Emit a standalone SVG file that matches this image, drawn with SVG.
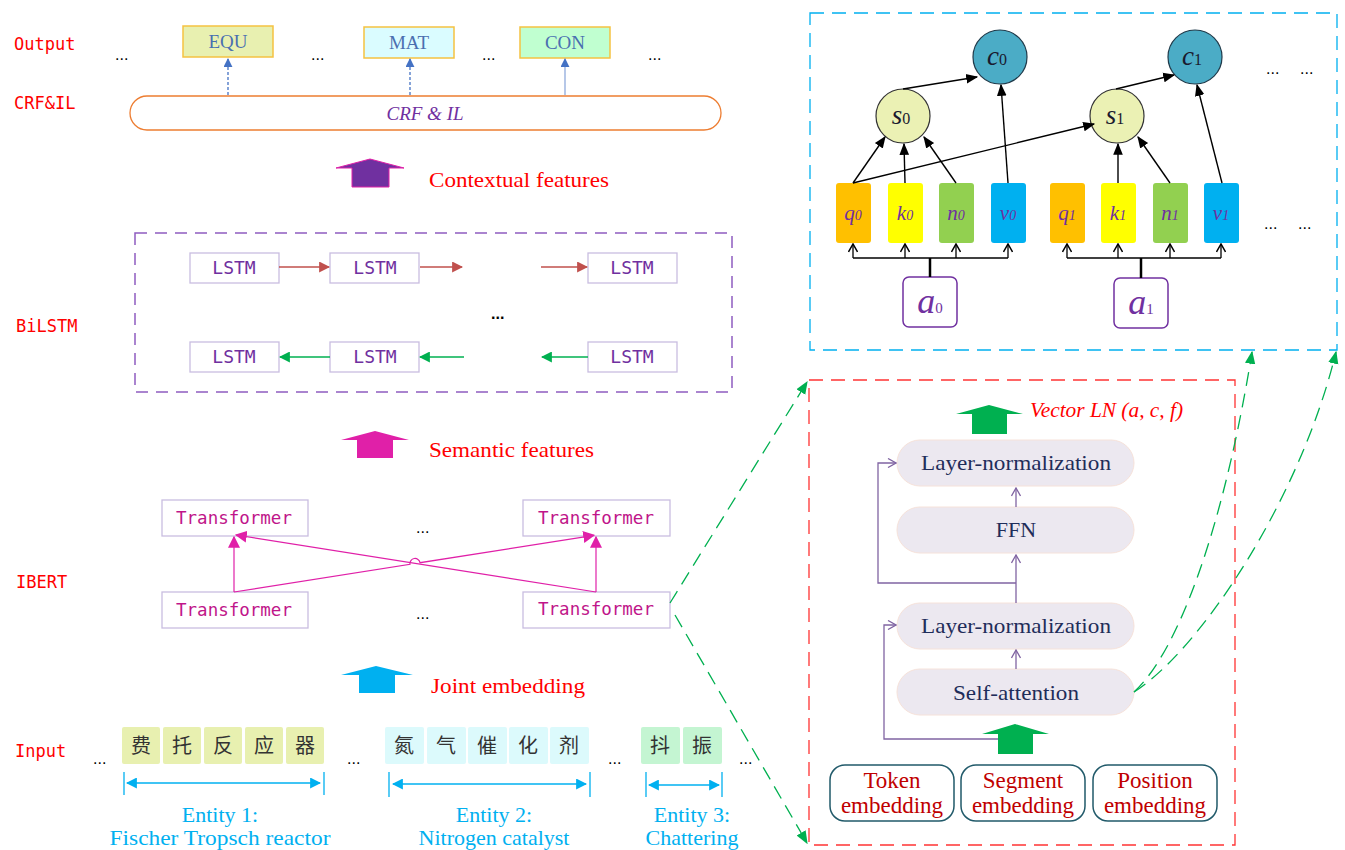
<svg xmlns="http://www.w3.org/2000/svg" width="1345" height="850" viewBox="0 0 1345 850">
<defs>
<style>
.lbl{font-family:"DejaVu Sans Mono","Liberation Mono",monospace;font-size:17px;fill:#ff0000}
.ser{font-family:"Liberation Serif","DejaVu Serif",serif}
.dots{font-family:"Liberation Sans",sans-serif;font-size:16px;fill:#000}
.tag{font-family:"Liberation Serif",serif;font-size:19px;fill:#4a6fb0;text-anchor:middle}
.feat{font-family:"Liberation Serif",serif;font-size:21px;fill:#ff0000}
.lstm{fill:#fff;stroke:#c9bde0;stroke-width:1.3}
.lstmt{font-family:"DejaVu Sans Mono",monospace;font-size:18px;fill:#7030a0;text-anchor:middle}
.tf{fill:#fff;stroke:#c9bde0;stroke-width:1.3}
.tft{font-family:"DejaVu Sans Mono",monospace;font-size:17.5px;fill:#c0158a;text-anchor:middle}
.cjk{font-family:"Noto Sans CJK SC",sans-serif;font-size:20px;fill:#333;text-anchor:middle}
.ent{font-family:"Liberation Serif",serif;font-size:22px;fill:#00b0f0;text-anchor:middle}
.pill{fill:#ece8f0;stroke:#f6e2da;stroke-width:1}
.pillt{font-family:"Liberation Serif",serif;font-size:22px;fill:#1f2d5a;text-anchor:middle}
.emb{fill:#fff;stroke:#215a6a;stroke-width:1.5}
.embt{font-family:"Liberation Serif",serif;font-size:23px;fill:#c00000;text-anchor:middle}
.vec{font-family:"Liberation Serif",serif;font-size:21px;font-style:italic;fill:#7030a0;text-anchor:middle}
.circt{font-family:"Liberation Serif",serif;font-size:27px;font-style:italic;fill:#1a1a2e;text-anchor:middle}
.blk{stroke:#000;stroke-width:1.4;fill:none}
</style>
<marker id="mBlue" viewBox="0 0 10 10" refX="9" refY="5" markerWidth="9" markerHeight="9" markerUnits="userSpaceOnUse" orient="auto"><path d="M0,0L10,5L0,10z" fill="#4472c4"/></marker>
<marker id="mRed" viewBox="0 0 10 10" refX="9" refY="5" markerWidth="11" markerHeight="11" markerUnits="userSpaceOnUse" orient="auto"><path d="M0,0L10,5L0,10z" fill="#c0504d"/></marker>
<marker id="mGreen" viewBox="0 0 10 10" refX="9" refY="5" markerWidth="11" markerHeight="11" markerUnits="userSpaceOnUse" orient="auto"><path d="M0,0L10,5L0,10z" fill="#00b050"/></marker>
<marker id="mMag" viewBox="0 0 10 10" refX="9" refY="5" markerWidth="12" markerHeight="12" markerUnits="userSpaceOnUse" orient="auto"><path d="M0,0L10,5L0,10z" fill="#e020a8"/></marker>
<marker id="mCyan" viewBox="0 0 10 10" refX="9" refY="5" markerWidth="11" markerHeight="11" markerUnits="userSpaceOnUse" orient="auto-start-reverse"><path d="M0,0L10,5L0,10z" fill="#00b0f0"/></marker>
<marker id="mBlack" viewBox="0 0 10 10" refX="9" refY="5" markerWidth="12" markerHeight="12" markerUnits="userSpaceOnUse" orient="auto"><path d="M0,1L10,5L0,9z" fill="#000"/></marker>
<marker id="mOpen" viewBox="0 0 10 10" refX="9" refY="5" markerWidth="10" markerHeight="10" markerUnits="userSpaceOnUse" orient="auto"><path d="M1,0.5L9,5L1,9.5" fill="none" stroke="#000" stroke-width="1.5"/></marker>
<marker id="mOpenP" viewBox="0 0 10 10" refX="9" refY="5" markerWidth="10" markerHeight="10" markerUnits="userSpaceOnUse" orient="auto"><path d="M1,0.5L9,5L1,9.5" fill="none" stroke="#8064a2" stroke-width="1.3"/></marker>
<marker id="mDG" viewBox="0 0 10 10" refX="9" refY="5" markerWidth="13" markerHeight="13" markerUnits="userSpaceOnUse" orient="auto"><path d="M0,1L10,5L0,9z" fill="#00b050"/></marker>
</defs>
<rect width="1345" height="850" fill="#fff"/>

<!-- Row labels -->
<g id="row-labels">
<text class="lbl" x="14" y="50">Output</text>
<text class="lbl" x="14" y="109">CRF&amp;IL</text>
<text class="lbl" x="16" y="332">BiLSTM</text>
<text class="lbl" x="16" y="588">IBERT</text>
<text class="lbl" x="15" y="757">Input</text>
</g>

<!-- Output tags -->
<g id="out-equ"><rect x="183" y="26" width="90" height="31" fill="#e8f0b0" stroke="#f5c242" stroke-width="1.5"/><text class="tag" x="228" y="48">EQU</text></g>
<g id="out-mat"><rect x="364" y="27" width="90" height="31" fill="#dafcff" stroke="#f5c242" stroke-width="1.5"/><text class="tag" x="409" y="49">MAT</text></g>
<g id="out-con"><rect x="520" y="27" width="90" height="31" fill="#c0ffd0" stroke="#f5c242" stroke-width="1.5"/><text class="tag" x="565" y="49">CON</text></g>
<g id="out-dots" class="dots"><text x="115" y="60">...</text><text x="311" y="60">...</text><text x="482" y="60">...</text><text x="648" y="60">...</text></g>

<g id="crf"><rect x="130" y="96" width="591" height="34" rx="17" fill="#fff" stroke="#ed7d31" stroke-width="1.3"/><text class="ser" x="425" y="120" font-size="19" font-style="italic" fill="#7030a0" text-anchor="middle">CRF &amp; IL</text></g>

<!-- Block arrows -->
<g id="ctx-arrow"><polygon points="336,168 370,159 404,168 389,168 389,187 352,187 352,168" fill="#7030a0" stroke="#e020a8" stroke-width="1"/><text class="feat" x="429" y="187" textLength="180" lengthAdjust="spacingAndGlyphs">Contextual features</text></g>
<g id="sem-arrow"><polygon points="341,440 375,431 409,440 393,440 393,458 357,458 357,440" fill="#e020a8"/><text class="feat" x="429" y="457" textLength="165" lengthAdjust="spacingAndGlyphs">Semantic features</text></g>
<g id="joint-arrow"><polygon points="341,675 376,666 413,675 395,675 395,693 359,693 359,675" fill="#00b0f0"/><text class="feat" x="431" y="693" textLength="154" lengthAdjust="spacingAndGlyphs">Joint embedding</text></g>

<!-- BiLSTM -->
<g id="bilstm-box"><rect x="135" y="233" width="597" height="159" fill="none" stroke="#8e5cc0" stroke-width="1.5" stroke-dasharray="12,8"/></g>
<g id="lstm-f1"><rect class="lstm" x="190" y="253" width="89" height="30"/><text class="lstmt" x="234" y="274">LSTM</text></g>
<g id="lstm-f2"><rect class="lstm" x="330" y="253" width="89" height="30"/><text class="lstmt" x="375" y="274">LSTM</text></g>
<g id="lstm-f3"><rect class="lstm" x="588" y="253" width="89" height="30"/><text class="lstmt" x="632" y="274">LSTM</text></g>
<g id="lstm-b1"><rect class="lstm" x="190" y="342" width="89" height="30"/><text class="lstmt" x="234" y="363">LSTM</text></g>
<g id="lstm-b2"><rect class="lstm" x="330" y="342" width="89" height="30"/><text class="lstmt" x="375" y="363">LSTM</text></g>
<g id="lstm-b3"><rect class="lstm" x="588" y="342" width="89" height="30"/><text class="lstmt" x="632" y="363">LSTM</text></g>
<text class="dots" x="491" y="319" font-size="20" font-weight="bold">...</text>

<!-- Transformers -->
<g id="tf-t1"><rect class="tf" x="162" y="500" width="146" height="36"/><text class="tft" x="234" y="524">Transformer</text></g>
<g id="tf-t2"><rect class="tf" x="523" y="500" width="147" height="36"/><text class="tft" x="596" y="524">Transformer</text></g>
<g id="tf-b1"><rect class="tf" x="162" y="592" width="146" height="36"/><text class="tft" x="234" y="616">Transformer</text></g>
<g id="tf-b2"><rect class="tf" x="523" y="592" width="147" height="36"/><text class="tft" x="596" y="615" font-size="15">Transformer</text></g>
<g class="dots"><text x="416" y="533">...</text><text x="416" y="619">...</text></g>

<!-- Input tokens -->
<g id="ent1-chars">
<rect x="122" y="727" width="38" height="37" rx="2" fill="#e8f0b0"/><text class="cjk" x="141" y="753">费</text>
<rect x="163" y="727" width="38" height="37" rx="2" fill="#e8f0b0"/><text class="cjk" x="182" y="753">托</text>
<rect x="204" y="727" width="38" height="37" rx="2" fill="#e8f0b0"/><text class="cjk" x="223" y="753">反</text>
<rect x="245" y="727" width="38" height="37" rx="2" fill="#e8f0b0"/><text class="cjk" x="264" y="753">应</text>
<rect x="286" y="727" width="38" height="37" rx="2" fill="#e8f0b0"/><text class="cjk" x="305" y="753">器</text>
</g>
<g id="ent2-chars">
<rect x="385" y="727" width="39" height="37" rx="2" fill="#dcfafc"/><text class="cjk" x="404" y="753">氮</text>
<rect x="427" y="727" width="39" height="37" rx="2" fill="#dcfafc"/><text class="cjk" x="446" y="753">气</text>
<rect x="468" y="727" width="39" height="37" rx="2" fill="#dcfafc"/><text class="cjk" x="487" y="753">催</text>
<rect x="509" y="727" width="39" height="37" rx="2" fill="#dcfafc"/><text class="cjk" x="528" y="753">化</text>
<rect x="550" y="727" width="39" height="37" rx="2" fill="#dcfafc"/><text class="cjk" x="569" y="753">剂</text>
</g>
<g id="ent3-chars">
<rect x="641" y="727" width="39" height="37" rx="2" fill="#c4f5d2"/><text class="cjk" x="660" y="753">抖</text>
<rect x="683" y="727" width="39" height="37" rx="2" fill="#c4f5d2"/><text class="cjk" x="702" y="753">振</text>
</g>
<g class="dots"><text x="93" y="764">...</text><text x="347" y="764">...</text><text x="608" y="764">...</text><text x="739" y="764">...</text></g>

<g id="entity-spans" stroke="#00b0f0" stroke-width="1.3" fill="none">
<line x1="124" y1="772" x2="124" y2="795"/><line x1="324" y1="772" x2="324" y2="795"/>
<line x1="389" y1="772" x2="389" y2="797"/><line x1="590" y1="772" x2="590" y2="797"/>
<line x1="646" y1="772" x2="646" y2="797"/><line x1="722" y1="772" x2="722" y2="797"/>
<line x1="127" y1="783" x2="320" y2="783" marker-start="url(#mCyan)" marker-end="url(#mCyan)"/>
<line x1="393" y1="784" x2="586" y2="784" marker-start="url(#mCyan)" marker-end="url(#mCyan)"/>
<line x1="649" y1="785" x2="719" y2="785" marker-start="url(#mCyan)" marker-end="url(#mCyan)"/>
</g>
<g id="entity-labels">
<text class="ent" x="220" y="822">Entity 1:</text><text class="ent" x="220" y="845" textLength="221" lengthAdjust="spacingAndGlyphs">Fischer Tropsch reactor</text>
<text class="ent" x="494" y="822">Entity 2:</text><text class="ent" x="494" y="845">Nitrogen catalyst</text>
<text class="ent" x="692" y="822">Entity 3:</text><text class="ent" x="692" y="845">Chattering</text>
</g>

<!-- Attention detail (top right) -->
<g id="attn-box"><rect x="810" y="13" width="527" height="337" fill="none" stroke="#00b0f0" stroke-width="1.3" stroke-dasharray="14,8"/></g>
<g id="c0"><circle cx="1000" cy="57" r="27" fill="#4bacc6" stroke="#1f3a4a" stroke-width="1.2"/><text class="circt" x="997" y="65">c<tspan font-size="16" font-style="normal">0</tspan></text></g>
<g id="c1"><circle cx="1195" cy="57" r="27" fill="#4bacc6" stroke="#1f3a4a" stroke-width="1.2"/><text class="circt" x="1192" y="65">c<tspan font-size="16" font-style="normal">1</tspan></text></g>
<g id="s0"><circle cx="903" cy="116" r="27" fill="#ebf1b4" stroke="#333" stroke-width="1.2"/><text class="circt" x="901" y="124" font-size="24">s<tspan font-size="16" font-style="normal">0</tspan></text></g>
<g id="s1"><circle cx="1117" cy="116" r="27" fill="#ebf1b4" stroke="#333" stroke-width="1.2"/><text class="circt" x="1115" y="124" font-size="24">s<tspan font-size="16" font-style="normal">1</tspan></text></g>
<g class="dots"><text x="1266" y="74">...</text><text x="1300" y="74">...</text><text x="1264" y="229">...</text><text x="1298" y="229">...</text></g>

<g id="vec-q0"><rect x="836" y="183" width="35" height="60" rx="3" fill="#ffc000"/><text class="vec" x="853" y="220">q<tspan font-size="14">0</tspan></text></g>
<g id="vec-k0"><rect x="888" y="183" width="35" height="60" rx="3" fill="#ffff00"/><text class="vec" x="905" y="220">k<tspan font-size="14">0</tspan></text></g>
<g id="vec-n0"><rect x="939" y="183" width="35" height="60" rx="3" fill="#92d050"/><text class="vec" x="956" y="220">n<tspan font-size="14">0</tspan></text></g>
<g id="vec-v0"><rect x="991" y="183" width="35" height="60" rx="3" fill="#00b0f0"/><text class="vec" x="1008" y="220">v<tspan font-size="14">0</tspan></text></g>
<g id="vec-q1"><rect x="1050" y="183" width="35" height="60" rx="3" fill="#ffc000"/><text class="vec" x="1067" y="220">q<tspan font-size="14">1</tspan></text></g>
<g id="vec-k1"><rect x="1101" y="183" width="35" height="60" rx="3" fill="#ffff00"/><text class="vec" x="1118" y="220">k<tspan font-size="14">1</tspan></text></g>
<g id="vec-n1"><rect x="1153" y="183" width="35" height="60" rx="3" fill="#92d050"/><text class="vec" x="1170" y="220">n<tspan font-size="14">1</tspan></text></g>
<g id="vec-v1"><rect x="1204" y="183" width="35" height="60" rx="3" fill="#00b0f0"/><text class="vec" x="1221" y="220">v<tspan font-size="14">1</tspan></text></g>

<g id="a0"><rect x="903" y="277" width="54" height="50" rx="6" fill="#fff" stroke="#7030a0" stroke-width="1.5"/><text class="ser" x="930" y="313" font-size="36" font-style="italic" fill="#7030a0" text-anchor="middle">a<tspan font-size="15" font-style="normal">0</tspan></text></g>
<g id="a1"><rect x="1114" y="278" width="54" height="50" rx="6" fill="#fff" stroke="#7030a0" stroke-width="1.5"/><text class="ser" x="1141" y="314" font-size="36" font-style="italic" fill="#7030a0" text-anchor="middle">a<tspan font-size="15" font-style="normal">1</tspan></text></g>

<!-- Transformer block detail (red box) -->
<g id="block-box"><rect x="809" y="380" width="426" height="465" fill="none" stroke="#ff3333" stroke-width="1.3" stroke-dasharray="14,8"/></g>
<g id="vec-ln"><polygon points="956,414 989,405 1023,414 1007,414 1007,434 972,434 972,414" fill="#00b050"/><text class="ser" x="1030" y="417" font-size="20" font-style="italic" fill="#ff0000" textLength="153" lengthAdjust="spacingAndGlyphs">Vector LN (a, c, f)</text></g>
<g id="ln-top"><rect class="pill" x="897" y="440" width="237" height="46" rx="23"/><text class="pillt" x="1016" y="470" textLength="190" lengthAdjust="spacingAndGlyphs">Layer-normalization</text></g>
<g id="ffn"><rect class="pill" x="897" y="507" width="237" height="46" rx="23"/><text class="pillt" x="1016" y="537">FFN</text></g>
<g id="ln-bot"><rect class="pill" x="897" y="603" width="237" height="46" rx="23"/><text class="pillt" x="1016" y="633" textLength="190" lengthAdjust="spacingAndGlyphs">Layer-normalization</text></g>
<g id="self-attn"><rect class="pill" x="897" y="669" width="237" height="46" rx="23"/><text class="pillt" x="1016" y="700" textLength="126" lengthAdjust="spacingAndGlyphs">Self-attention</text></g>
<g id="emb-arrow"><polygon points="982,734 1015,724 1049,734 1033,734 1033,754 998,754 998,734" fill="#00b050"/></g>
<g id="emb-token"><rect class="emb" x="830" y="765" width="124" height="56" rx="15"/><text class="embt" x="892" y="788">Token</text><text class="embt" x="892" y="813">embedding</text></g>
<g id="emb-segment"><rect class="emb" x="961" y="765" width="124" height="56" rx="15"/><text class="embt" x="1023" y="788">Segment</text><text class="embt" x="1023" y="813">embedding</text></g>
<g id="emb-position"><rect class="emb" x="1093" y="765" width="124" height="56" rx="15"/><text class="embt" x="1155" y="788">Position</text><text class="embt" x="1155" y="813">embedding</text></g>

<!-- Connectors -->
<g id="connectors">
<line x1="228" y1="95" x2="228" y2="59" stroke="#4472c4" stroke-width="1.3" stroke-dasharray="3,2" marker-end="url(#mBlue)"/>
<line x1="410" y1="95" x2="410" y2="59" stroke="#4472c4" stroke-width="1.3" stroke-dasharray="3,2" marker-end="url(#mBlue)"/>
<line x1="565" y1="95" x2="565" y2="59" stroke="#8faadc" stroke-width="1.3" marker-end="url(#mBlue)"/>
<g stroke="#c0504d" stroke-width="1.5">
<line x1="279" y1="267" x2="329" y2="267" marker-end="url(#mRed)"/>
<line x1="420" y1="267" x2="462" y2="267" marker-end="url(#mRed)"/>
<line x1="541" y1="267" x2="587" y2="267" marker-end="url(#mRed)"/>
</g>
<g stroke="#00b050" stroke-width="1.5">
<line x1="330" y1="357" x2="280" y2="357" marker-end="url(#mGreen)"/>
<line x1="464" y1="357" x2="420" y2="357" marker-end="url(#mGreen)"/>
<line x1="588" y1="357" x2="542" y2="357" marker-end="url(#mGreen)"/>
</g>
<g stroke="#e020a8" stroke-width="1.2" fill="none">
<line x1="234" y1="592" x2="234" y2="537" marker-end="url(#mMag)"/>
<line x1="596" y1="592" x2="596" y2="537" marker-end="url(#mMag)"/>
<path d="M234,592 L410,564.3 A5,5 0 0 1 420,562.7 L594,535.3" marker-end="url(#mMag)"/>
<line x1="596" y1="592" x2="236" y2="535" marker-end="url(#mMag)"/>
</g>
<g class="blk">
<line x1="853" y1="183" x2="885" y2="137" marker-end="url(#mBlack)"/>
<line x1="905" y1="183" x2="904" y2="144" marker-end="url(#mBlack)"/>
<line x1="956" y1="183" x2="924" y2="137" marker-end="url(#mBlack)"/>
<line x1="1008" y1="183" x2="1001" y2="85" marker-end="url(#mBlack)"/>
<line x1="903" y1="89" x2="977" y2="77" marker-end="url(#mBlack)"/>
<line x1="853" y1="183" x2="1094" y2="124" marker-end="url(#mBlack)"/>
<line x1="1118" y1="183" x2="1118" y2="144" marker-end="url(#mBlack)"/>
<line x1="1170" y1="183" x2="1138" y2="137" marker-end="url(#mBlack)"/>
<line x1="1222" y1="183" x2="1197" y2="85" marker-end="url(#mBlack)"/>
<line x1="1116" y1="89" x2="1174" y2="75" marker-end="url(#mBlack)"/>
</g>
<g stroke="#000" stroke-width="1.3" fill="none">
<line x1="930" y1="277" x2="930" y2="258" stroke-width="2.5"/>
<line x1="853" y1="258" x2="1008" y2="258"/>
<line x1="853" y1="258" x2="853" y2="244" marker-end="url(#mOpen)"/>
<line x1="905" y1="258" x2="905" y2="244" marker-end="url(#mOpen)"/>
<line x1="956" y1="258" x2="956" y2="244" marker-end="url(#mOpen)"/>
<line x1="1008" y1="258" x2="1008" y2="244" marker-end="url(#mOpen)"/>
<line x1="1141" y1="278" x2="1141" y2="258" stroke-width="2.5"/>
<line x1="1067" y1="258" x2="1221" y2="258"/>
<line x1="1067" y1="258" x2="1067" y2="244" marker-end="url(#mOpen)"/>
<line x1="1118" y1="258" x2="1118" y2="244" marker-end="url(#mOpen)"/>
<line x1="1170" y1="258" x2="1170" y2="244" marker-end="url(#mOpen)"/>
<line x1="1221" y1="258" x2="1221" y2="244" marker-end="url(#mOpen)"/>
</g>
<g stroke="#8064a2" stroke-width="1.3" fill="none">
<line x1="1016" y1="507" x2="1016" y2="488" marker-end="url(#mOpenP)"/>
<line x1="1016" y1="603" x2="1016" y2="555" marker-end="url(#mOpenP)"/>
<line x1="1016" y1="669" x2="1016" y2="650" marker-end="url(#mOpenP)"/>
<polyline points="1016,583 878,583 878,463 896,463" marker-end="url(#mOpenP)"/>
<polyline points="998,739 884,739 884,625 896,625" marker-end="url(#mOpenP)"/>
</g>
<g stroke="#00b050" stroke-width="1.3" fill="none" stroke-dasharray="14,8">
<line x1="670" y1="603" x2="807" y2="382" marker-end="url(#mDG)"/>
<line x1="675" y1="615" x2="807" y2="843" marker-end="url(#mDG)"/>
<path d="M1134,692 C1180,650 1225,520 1252,352" marker-end="url(#mDG)"/>
<path d="M1134,692 C1200,650 1300,500 1336,352" marker-end="url(#mDG)"/>
</g>
</g>
</svg>
